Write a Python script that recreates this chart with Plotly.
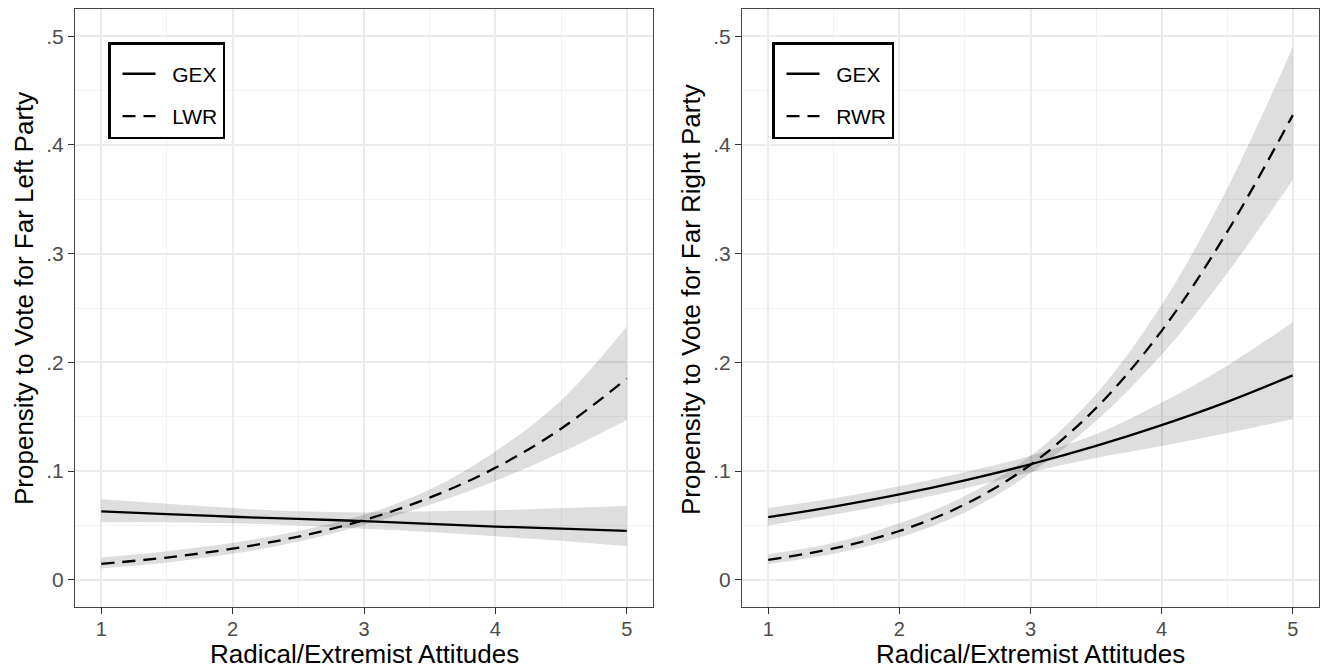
import plotly.graph_objects as go

# ---------------- data ----------------
x_vals = [1, 1.5, 2, 2.5, 3, 3.5, 4, 4.5, 5]

# Left panel: Far Left Party
left_gex_fit = [0.063, 0.0605, 0.058, 0.056, 0.054, 0.0515, 0.049, 0.047, 0.045]
left_gex_lo = [0.053, 0.053, 0.052, 0.050, 0.047, 0.044, 0.040, 0.036, 0.031]
left_gex_hi = [0.074, 0.070, 0.066, 0.063, 0.062, 0.063, 0.064, 0.066, 0.068]

left_lwr_fit = [0.0147, 0.0205, 0.0286, 0.0397, 0.0549, 0.0756, 0.103, 0.139, 0.185]
left_lwr_lo = [0.0105, 0.0160, 0.0240, 0.0350, 0.0505, 0.0690, 0.091, 0.117, 0.147]
left_lwr_hi = [0.0205, 0.0262, 0.0340, 0.0450, 0.0598, 0.0830, 0.118, 0.165, 0.233]

# Right panel: Far Right Party
right_gex_fit = [0.0576, 0.0673, 0.0785, 0.0915, 0.1063, 0.1232, 0.1423, 0.1637, 0.188]
right_gex_lo = [0.050, 0.060, 0.071, 0.084, 0.099, 0.112, 0.123, 0.135, 0.148]
right_gex_hi = [0.066, 0.075, 0.086, 0.099, 0.114, 0.134, 0.163, 0.197, 0.237]

right_rwr_fit = [0.0184, 0.0289, 0.0449, 0.0694, 0.1058, 0.158, 0.229, 0.320, 0.4274]
right_rwr_lo = [0.0145, 0.024, 0.039, 0.062, 0.098, 0.146, 0.207, 0.282, 0.368]
right_rwr_hi = [0.0235, 0.034, 0.052, 0.077, 0.114, 0.171, 0.253, 0.360, 0.490]

x_ticks = [1, 2, 3, 4, 5]
x_ticktext = ["1", "2", "3", "4", "5"]
y_ticks = [0, 0.1, 0.2, 0.3, 0.4, 0.5]
y_ticktext = ["0", ".1", ".2", ".3", ".4", ".5"]

x_title = "Radical/Extremist Attitudes"
left_y_title = "Propensity to Vote for Far Left Party"
right_y_title = "Propensity to Vote for Far Right Party"

# ---------------- styling ----------------
FONT = "Liberation Sans, Arial, sans-serif"
BAND = "rgba(0,0,0,0.13)"
DASH = "13px,8px"
PAD = "\u00a0\u00a0"

fig = go.Figure()


def add_band(xa, ya, lo, hi):
    fig.add_trace(go.Scatter(
        x=x_vals, y=lo, mode="lines", line=dict(width=0, shape="spline"),
        hoverinfo="skip", showlegend=False, xaxis=xa, yaxis=ya))
    fig.add_trace(go.Scatter(
        x=x_vals, y=hi, mode="lines", line=dict(width=0, shape="spline"),
        fill="tonexty", fillcolor=BAND,
        hoverinfo="skip", showlegend=False, xaxis=xa, yaxis=ya))


def add_line(xa, ya, fit, name, dash, legend, group):
    fig.add_trace(go.Scatter(
        x=x_vals, y=fit, mode="lines", name=PAD + name,
        line=dict(color="black", width=2.3, dash=dash, shape="spline"),
        xaxis=xa, yaxis=ya, legend=legend, legendgroup=group))


add_band("x", "y", left_gex_lo, left_gex_hi)
add_band("x", "y", left_lwr_lo, left_lwr_hi)
add_line("x", "y", left_gex_fit, "GEX", "solid", "legend", "a")
add_line("x", "y", left_lwr_fit, "LWR", DASH, "legend", "b")

add_band("x2", "y2", right_gex_lo, right_gex_hi)
add_band("x2", "y2", right_rwr_lo, right_rwr_hi)
add_line("x2", "y2", right_gex_fit, "GEX", "solid", "legend2", "c")
add_line("x2", "y2", right_rwr_fit, "RWR", DASH, "legend2", "d")

W, H = 1324, 668
TOP, BOTTOM = 9, 607
PH = BOTTOM - TOP
L1, R1 = 75, 653
L2, R2 = 742, 1319

common_x = dict(
    range=[0.8, 5.2], tickvals=x_ticks, ticktext=x_ticktext,
    showgrid=True, gridcolor="#ebebeb", gridwidth=1.5,
    minor=dict(dtick=0.5, tick0=0.5, showgrid=True, gridcolor="#f3f3f3", gridwidth=1),
    ticks="outside", ticklen=6, tickwidth=1.3, tickcolor="#333333",
    showline=True, linecolor="#444444", linewidth=1.3, mirror=True,
    zeroline=False, automargin=False, ticklabelstandoff=-2,
    tickfont=dict(size=20, color="#4d4d4d", family=FONT),
)
common_y = dict(
    range=[-0.025, 0.525], tickvals=y_ticks, ticktext=y_ticktext,
    showgrid=True, gridcolor="#ebebeb", gridwidth=1.5,
    minor=dict(dtick=0.05, tick0=0.05, showgrid=True, gridcolor="#f3f3f3", gridwidth=1),
    ticks="outside", ticklen=6, tickwidth=1.3, tickcolor="#333333",
    showline=True, linecolor="#444444", linewidth=1.3, mirror=True,
    zeroline=False, automargin=False,
    tickfont=dict(size=21, color="#4d4d4d", family=FONT),
)

legend_common = dict(
    bgcolor="white", bordercolor="black", borderwidth=2.5,
    font=dict(size=21, color="black", family=FONT),
    xanchor="left", yanchor="top", traceorder="grouped", tracegroupgap=12,
    itemwidth=33, indentation=7,
    title=dict(text="\u00a0", font=dict(size=7)),
)

title_font = dict(size=26, color="black", family=FONT)
annotations = [
    dict(text=x_title, xref="paper", yref="paper",
         x=(L1 + R1) / 2 / W, y=(BOTTOM - 654) / PH, borderpad=0,
         xanchor="center", yanchor="middle", showarrow=False, font=title_font),
    dict(text=x_title, xref="paper", yref="paper",
         x=(L2 + R2) / 2 / W, y=(BOTTOM - 654) / PH, borderpad=0,
         xanchor="center", yanchor="middle", showarrow=False, font=title_font),
    dict(text=left_y_title, xref="paper", yref="paper",
         x=24 / W, y=(BOTTOM - 299) / PH, textangle=-90,
         xanchor="center", yanchor="middle", showarrow=False, font=title_font),
    dict(text=right_y_title, xref="paper", yref="paper",
         x=691 / W, y=(BOTTOM - 299) / PH, textangle=-90,
         xanchor="center", yanchor="middle", showarrow=False, font=title_font),
]

fig.update_layout(
    width=W, height=H, margin=dict(l=0, r=0, t=TOP, b=H - BOTTOM),
    paper_bgcolor="white", plot_bgcolor="white",
    font=dict(family=FONT),
    xaxis=dict(domain=[L1 / W, R1 / W], anchor="y", **common_x),
    yaxis=dict(domain=[0, 1], anchor="x", **common_y),
    xaxis2=dict(domain=[L2 / W, R2 / W], anchor="y2", **common_x),
    yaxis2=dict(domain=[0, 1], anchor="x2", **common_y),
    legend=dict(x=108 / W, y=1 - (42 - TOP) / PH, **legend_common),
    legend2=dict(x=772 / W, y=1 - (42 - TOP) / PH, **legend_common),
    annotations=annotations,
)

fig.write_html(
    "out.html",
    config={"displayModeBar": False},
    post_script="document.body.style.margin='0';document.body.style.overflow='hidden';",
)
